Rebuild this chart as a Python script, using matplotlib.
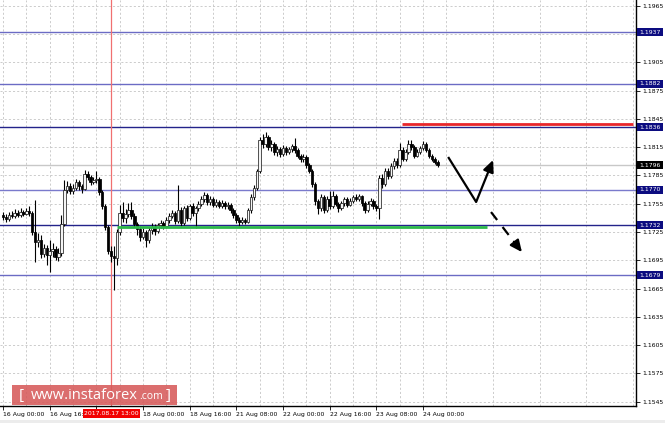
import matplotlib
matplotlib.use("Agg")
import matplotlib.pyplot as plt
import matplotlib.transforms as mtransforms
from matplotlib.patches import Rectangle

# EURUSD H1 candles (16 Aug 00:00 onwards)
opens = [1.1743, 1.1741, 1.1739, 1.1743, 1.1742, 1.1745, 1.1743, 1.1746, 1.1744, 1.1747,
         1.1745, 1.1725, 1.1714, 1.1716, 1.1702, 1.1708, 1.1701, 1.1705, 1.1707, 1.1698,
         1.1703, 1.1733, 1.1770, 1.1774, 1.1768, 1.1772, 1.1778, 1.1774, 1.1771, 1.1786,
         1.1783, 1.1778, 1.1780, 1.1781, 1.1767, 1.1752, 1.1730, 1.1705, 1.1700, 1.1697,
         1.1725, 1.1745, 1.1740, 1.1744, 1.1748, 1.1742, 1.1733, 1.1728, 1.1720, 1.1725,
         1.1716, 1.1727, 1.1730, 1.1726, 1.1732, 1.1735, 1.1731, 1.1738, 1.1742, 1.1745,
         1.1737, 1.1748, 1.1735, 1.1750, 1.1740, 1.1752, 1.1745, 1.1750, 1.1755, 1.1760,
         1.1764, 1.1757, 1.1760, 1.1754, 1.1757, 1.1753, 1.1756, 1.1752, 1.1754, 1.1748,
         1.1743, 1.1738, 1.1736, 1.1738, 1.1736, 1.1748, 1.1762, 1.1772, 1.1790, 1.1822,
         1.1818, 1.1826, 1.1815, 1.1818, 1.1810, 1.1813, 1.1808, 1.1814, 1.1810, 1.1813,
         1.1816, 1.1812, 1.1806, 1.1802, 1.1805, 1.1796, 1.1790, 1.1776, 1.1758, 1.1750,
         1.1762, 1.1748, 1.1760, 1.1752, 1.1763, 1.1755, 1.1750, 1.1756, 1.1760, 1.1754,
         1.1758, 1.1762, 1.1760, 1.1763, 1.1756, 1.1748, 1.1755, 1.1758, 1.1752, 1.1750,
         1.1782, 1.1776, 1.1790, 1.1784, 1.1795, 1.1800, 1.1796, 1.1812, 1.1802, 1.1810,
         1.1818, 1.1815, 1.1806, 1.1810, 1.1814, 1.1818, 1.1812, 1.1806, 1.1802, 1.1799]
highs = [1.1746, 1.1744, 1.1746, 1.1747, 1.1749, 1.1748, 1.1750, 1.1748, 1.1750, 1.1752,
         1.1747, 1.1759, 1.1724, 1.1722, 1.1712, 1.1711, 1.1716, 1.1713, 1.1710, 1.1708,
         1.1743, 1.1780, 1.1779, 1.1777, 1.1776, 1.1781, 1.1780, 1.1776, 1.1791, 1.1790,
         1.1785, 1.1783, 1.1790, 1.1783, 1.1769, 1.1755, 1.1732, 1.1710, 1.1710, 1.1728,
         1.1754, 1.1757, 1.1749, 1.1756, 1.1757, 1.1745, 1.1736, 1.1731, 1.1729, 1.1727,
         1.1730, 1.1734, 1.1733, 1.1735, 1.1738, 1.1737, 1.1741, 1.1745, 1.1748, 1.1747,
         1.1775, 1.1751, 1.1753, 1.1754, 1.1755, 1.1756, 1.1753, 1.1758, 1.1763, 1.1767,
         1.1766, 1.1763, 1.1762, 1.1760, 1.1759, 1.1759, 1.1758, 1.1757, 1.1756, 1.1750,
         1.1745, 1.1741, 1.1741, 1.1740, 1.1750, 1.1765, 1.1775, 1.1792, 1.1826, 1.1829,
         1.1831, 1.1828, 1.1822, 1.1820, 1.1816, 1.1815, 1.1817, 1.1816, 1.1815, 1.1818,
         1.1825, 1.1814, 1.1808, 1.1808, 1.1807, 1.1798, 1.1792, 1.1778, 1.1760, 1.1765,
         1.1764, 1.1763, 1.1768, 1.1768, 1.1765, 1.1757, 1.1758, 1.1762, 1.1762, 1.1761,
         1.1764, 1.1765, 1.1765, 1.1764, 1.1758, 1.1758, 1.1761, 1.1760, 1.1755, 1.1785,
         1.1786, 1.1793, 1.1793, 1.1798, 1.1803, 1.1803, 1.1819, 1.1815, 1.1813, 1.1823,
         1.1822, 1.1817, 1.1813, 1.1816, 1.1821, 1.1820, 1.1814, 1.1808, 1.1805, 1.1801]
lows = [1.1738, 1.1736, 1.1737, 1.1740, 1.1740, 1.1741, 1.1741, 1.1742, 1.1743, 1.1742,
        1.1722, 1.1693, 1.1709, 1.1697, 1.1698, 1.1690, 1.1682, 1.1698, 1.1695, 1.1694,
        1.1700, 1.1731, 1.1766, 1.1765, 1.1765, 1.1769, 1.1770, 1.1766, 1.1769, 1.1780,
        1.1775, 1.1776, 1.1777, 1.1764, 1.1749, 1.1727, 1.1702, 1.1693, 1.1663, 1.1690,
        1.1722, 1.1736, 1.1735, 1.1741, 1.1739, 1.1730, 1.1722, 1.1715, 1.1717, 1.1709,
        1.1713, 1.1723, 1.1722, 1.1724, 1.1729, 1.1728, 1.1729, 1.1735, 1.1740, 1.1733,
        1.1734, 1.1731, 1.1732, 1.1737, 1.1738, 1.1742, 1.1729, 1.1747, 1.1752, 1.1757,
        1.1754, 1.1754, 1.1751, 1.1751, 1.1750, 1.1750, 1.1749, 1.1749, 1.1745, 1.1740,
        1.1735, 1.1731, 1.1733, 1.1733, 1.1734, 1.1745, 1.1759, 1.1769, 1.1788, 1.1814,
        1.1815, 1.1812, 1.1811, 1.1807, 1.1806, 1.1805, 1.1806, 1.1807, 1.1808, 1.1810,
        1.1809, 1.1803, 1.1799, 1.1799, 1.1793, 1.1787, 1.1773, 1.1754, 1.1744, 1.1747,
        1.1745, 1.1746, 1.1749, 1.1750, 1.1752, 1.1746, 1.1748, 1.1753, 1.1751, 1.1752,
        1.1756, 1.1758, 1.1758, 1.1753, 1.1745, 1.1746, 1.1752, 1.1749, 1.1747, 1.1739,
        1.1772, 1.1774, 1.1781, 1.1782, 1.1792, 1.1793, 1.1794, 1.1800, 1.1800, 1.1808,
        1.1812, 1.1803, 1.1804, 1.1808, 1.1812, 1.1810, 1.1803, 1.1800, 1.1797, 1.1794]
closes = [1.1741, 1.1739, 1.1743, 1.1742, 1.1745, 1.1743, 1.1746, 1.1744, 1.1747, 1.1745,
          1.1725, 1.1714, 1.1716, 1.1702, 1.1708, 1.1701, 1.1705, 1.1707, 1.1698, 1.1703,
          1.1733, 1.1770, 1.1774, 1.1768, 1.1772, 1.1778, 1.1774, 1.1771, 1.1786, 1.1783,
          1.1778, 1.1780, 1.1781, 1.1767, 1.1752, 1.1730, 1.1705, 1.1700, 1.1697, 1.1725,
          1.1745, 1.1740, 1.1744, 1.1748, 1.1742, 1.1733, 1.1728, 1.1720, 1.1725, 1.1716,
          1.1727, 1.1730, 1.1726, 1.1732, 1.1735, 1.1731, 1.1738, 1.1742, 1.1745, 1.1737,
          1.1748, 1.1735, 1.1750, 1.1740, 1.1752, 1.1745, 1.1750, 1.1755, 1.1760, 1.1764,
          1.1757, 1.1760, 1.1754, 1.1757, 1.1753, 1.1756, 1.1752, 1.1754, 1.1748, 1.1743,
          1.1738, 1.1736, 1.1738, 1.1736, 1.1748, 1.1762, 1.1772, 1.1790, 1.1822, 1.1818,
          1.1826, 1.1815, 1.1818, 1.1810, 1.1813, 1.1808, 1.1814, 1.1810, 1.1813, 1.1816,
          1.1812, 1.1806, 1.1802, 1.1805, 1.1796, 1.1790, 1.1776, 1.1758, 1.1750, 1.1762,
          1.1748, 1.1760, 1.1752, 1.1763, 1.1755, 1.1750, 1.1756, 1.1760, 1.1754, 1.1758,
          1.1762, 1.1760, 1.1763, 1.1756, 1.1748, 1.1755, 1.1758, 1.1752, 1.1750, 1.1782,
          1.1776, 1.1790, 1.1784, 1.1795, 1.1800, 1.1796, 1.1812, 1.1802, 1.1810, 1.1818,
          1.1815, 1.1806, 1.1810, 1.1814, 1.1818, 1.1812, 1.1806, 1.1802, 1.1799, 1.1796]

# horizontal levels and their labels
levels = [1.1937, 1.1882, 1.1836, 1.1770, 1.1732, 1.1679]
level_colors = ['#6b6bc4', '#6b6bc4', '#23238a', '#7a7acc', '#23238a', '#6b6bc4']
current_price = 1.1796
resistance = 1.1839      # red line
support = 1.1730         # green line

# x axis labels every 16 bars (17 Aug 08:00 sits under the cursor tag)
xtick_bars = [0, 16, 32, 48, 64, 80, 96, 112, 128, 144]
xtick_labels = ['16 Aug 00:00', '16 Aug 16:00', '', '18 Aug 00:00',
                '18 Aug 16:00', '21 Aug 08:00', '22 Aug 00:00', '22 Aug 16:00',
                '23 Aug 08:00', '24 Aug 00:00']
cursor_bar = 37
cursor_label = '2017.08.17 13:00'
yticks = [1.1545, 1.1575, 1.1605, 1.1635, 1.1665, 1.1695, 1.1725, 1.1755,
          1.1785, 1.1815, 1.1845, 1.1875, 1.1905, 1.1935, 1.1965]
hidden_yticks = [1.1935]   # covered by the 1.1937 tag

# forecast arrows (bar, price)
path_down = [(152.6, 1.18045), (162.2, 1.17568)]
arrow_up = [(162.2, 1.17568), (168.0, 1.18013)]
arrow_dash = [(167.3, 1.17461), (177.9, 1.17036)]

fig = plt.figure(figsize=(6.65, 4.23), dpi=100)
ax = fig.add_axes([0, 17 / 423, 636 / 665, 406 / 423])
ax.set_xlim(-1.03, 217.0)
ax.set_ylim(1.15404, 1.19710)

# grid
ax.set_yticks(yticks)
ax.set_xticks(xtick_bars)
ax.set_xticks(range(8, 217, 16), minor=True)
ax.grid(True, which='both', color='#c4c4c4', linestyle=(0, (2.5, 2.5)), linewidth=0.6)
ax.set_axisbelow(True)

# candles
xs = range(len(closes))
for i in xs:
    o, h, l, c = opens[i], highs[i], lows[i], closes[i]
    ax.vlines(i, l, h, color='black', linewidth=0.8, zorder=3)
    bottom = min(o, c)
    height = max(abs(c - o), 0.00004)
    if c >= o:
        ax.bar(i, height, bottom=bottom, width=0.85, facecolor='#f4f4f4',
               edgecolor='#222222', linewidth=0.55, zorder=4)
    else:
        ax.bar(i, height, bottom=bottom, width=0.85, facecolor='black',
               edgecolor='black', linewidth=0.55, zorder=4)

# levels
for lv, col in zip(levels, level_colors):
    ax.axhline(lv, color=col, linewidth=1.0, zorder=2)
ax.axhline(current_price, color='#c8c8c8', linewidth=1.0, zorder=1)
ax.axvline(cursor_bar, color='#f07070', linewidth=0.9, zorder=2)
ax.hlines(resistance, 136.8, 216.0, color='#e8262a', linewidth=2.0, zorder=5)
ax.hlines(support, 39.1, 165.9, color='#2cb84a', linewidth=2.0, zorder=5)

# forecast arrows
head = '-|>,head_length=0.7,head_width=0.32'
ax.plot([p[0] for p in path_down], [p[1] for p in path_down], color='black',
        linewidth=1.6, solid_capstyle='butt', zorder=6)
ax.annotate('', xy=arrow_up[1], xytext=arrow_up[0],
            arrowprops=dict(arrowstyle=head, color='black', lw=1.6,
                            shrinkA=0, shrinkB=0), zorder=6)
dx = arrow_dash[1][0] - arrow_dash[0][0]
dy = arrow_dash[1][1] - arrow_dash[0][1]
ax.plot([arrow_dash[0][0], arrow_dash[0][0] + dx * 0.72],
        [arrow_dash[0][1], arrow_dash[0][1] + dy * 0.72], color='black',
        linewidth=1.6, linestyle=(0, (4.5, 4.0)), solid_capstyle='butt',
        dash_capstyle='butt', zorder=6)
ax.annotate('', xy=arrow_dash[1], xytext=(arrow_dash[0][0] + dx * 0.74, arrow_dash[0][1] + dy * 0.74),
            arrowprops=dict(arrowstyle=head, color='black', lw=1.6,
                            shrinkA=0, shrinkB=0), zorder=6)

# axes styling
for s in ['left', 'top']:
    ax.spines[s].set_visible(False)
ax.spines['right'].set_linewidth(1.0)
ax.spines['bottom'].set_linewidth(1.0)
ax.yaxis.tick_right()
ax.tick_params(axis='y', which='major', direction='out', length=3, width=0.6,
               labelsize=4.4, pad=1.5)
ax.tick_params(axis='x', which='major', direction='out', length=3, width=0.6,
               labelsize=4.4, pad=1.5)
ax.tick_params(axis='x', which='minor', length=0)
ax.set_yticklabels(['' if t in hidden_yticks else '%.4f' % t for t in yticks])
ax.set_xticklabels(xtick_labels, ha='left')

# level price tags
blend = mtransforms.blended_transform_factory(ax.transAxes, ax.transData)
tag_w = 26 / 636
tag_h = 8 / 9428
for lv in levels:
    ax.add_patch(Rectangle((1.0015, lv - tag_h / 2), tag_w, tag_h, transform=blend,
                           facecolor='#0c0c80', edgecolor='none', clip_on=False, zorder=10))
    ax.text(1.0015 + tag_w / 2, lv, '%.4f' % lv, transform=blend, color='white',
            fontsize=4.4, ha='center', va='center', clip_on=False, zorder=11)
ax.add_patch(Rectangle((1.0015, current_price - tag_h / 2), tag_w, tag_h, transform=blend,
                       facecolor='black', edgecolor='none', clip_on=False, zorder=10))
ax.text(1.0015 + tag_w / 2, current_price, '%.4f' % current_price, transform=blend,
        color='white', fontsize=4.4, ha='center', va='center', clip_on=False, zorder=11)

# cursor time tag on the x axis
blend_x = mtransforms.blended_transform_factory(ax.transData, fig.transFigure)
ax.text(cursor_bar + 0.2, 9.5 / 423, cursor_label, transform=blend_x, color='white',
        fontsize=4.4, ha='center', va='center', clip_on=False, zorder=11,
        bbox=dict(boxstyle='square,pad=0.25', facecolor='#f20000', edgecolor='none'))

# watermark
fig.patches.append(Rectangle((12 / 665, 18 / 423), 165 / 665, 20 / 423, transform=fig.transFigure,
                             facecolor='#d65a5a', edgecolor='none', alpha=0.88, zorder=20))
fig.text(19 / 665, 28 / 423, '[', color='white', fontsize=11, va='center', ha='left',
         family='Open Sans', zorder=21)
fig.text(31 / 665, 28 / 423, 'www.instaforex', color='white', fontsize=10.5, va='center',
         ha='left', family='Open Sans', zorder=21)
fig.text(139 / 665, 27 / 423, '.com', color='white', fontsize=7.5, va='center', ha='left',
         family='Open Sans', zorder=21)
fig.text(166 / 665, 28 / 423, ']', color='white', fontsize=11, va='center', ha='left',
         family='Open Sans', zorder=21)

# light strip at the bottom edge
fig.patches.append(Rectangle((0, 0), 1, 3 / 423, transform=fig.transFigure,
                             facecolor='#ececec', edgecolor='none'))

fig.savefig('out.png', dpi=100)
